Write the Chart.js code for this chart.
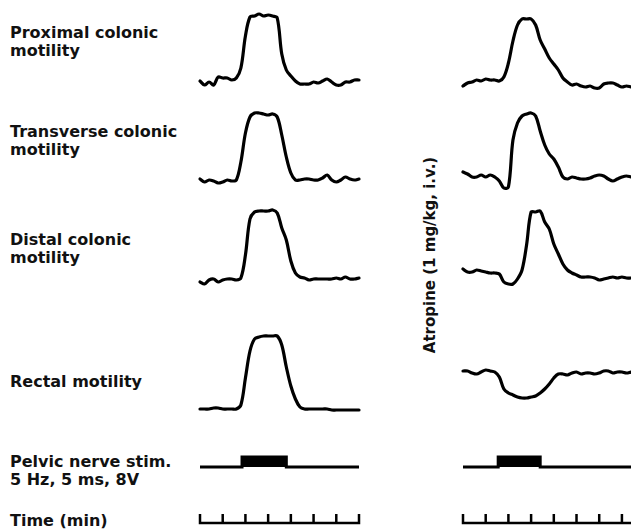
<!DOCTYPE html>
<html>
<head>
<meta charset="utf-8">
<script src="https://cdn.jsdelivr.net/npm/chart.js@4/dist/chart.umd.min.js"></script>
<style>
  body { margin: 0; background: #fff; }
  #wrap {
    position: relative; width: 631px; height: 531px; overflow: hidden;
    font-family: "DejaVu Sans", sans-serif; font-weight: bold;
    font-size: 16px; line-height: 18px; color: #111;
  }
  .label { position: absolute; left: 10px; white-space: nowrap; }
  #atropine {
    position: absolute; left: 430px; top: 255px; white-space: nowrap; font-size: 15px;
    transform: translate(-50%, -50%) rotate(-90deg);
  }
  canvas { position: absolute; top: 0; }
</style>
</head>
<body>
<div id="wrap">
  <div class="label" style="top:24px">Proximal colonic<br>motility</div>
  <div class="label" style="top:123px">Transverse colonic<br>motility</div>
  <div class="label" style="top:231px">Distal colonic<br>motility</div>
  <div class="label" style="top:373px">Rectal motility</div>
  <div class="label" style="top:453px">Pelvic nerve stim.<br>5 Hz, 5 ms, 8V</div>
  <div class="label" style="top:512px">Time (min)</div>
  <div id="atropine">Atropine (1 mg/kg, i.v.)</div>
  <canvas id="leftChart" width="180" height="531" style="left:190px"></canvas>
  <canvas id="rightChart" width="178" height="531" style="left:453px"></canvas>
</div>
<script>
// time axis (min)
var minutesLeft = [0, 0.2, 0.4, 0.6, 0.8, 1, 1.2, 1.4, 1.6, 1.8, 2, 2.2, 2.4, 2.6, 2.8, 3, 3.2, 3.4, 3.6, 3.8,
  4, 4.2, 4.4, 4.6, 4.8, 5, 5.2, 5.4, 5.6, 5.8, 6, 6.2, 6.4, 6.6, 6.8, 7]
var minutesRight = [0, 0.2, 0.4, 0.6, 0.8, 1, 1.2, 1.4, 1.6, 1.8, 2, 2.2, 2.4, 2.6, 2.8, 3, 3.2, 3.4, 3.6, 3.8,
  4, 4.2, 4.4, 4.6, 4.8, 5, 5.2, 5.4, 5.6, 5.8, 6, 6.2, 6.4, 6.6, 6.8, 7, 7.2, 7.4]
var timeTicks = [0, 1, 2, 3, 4, 5, 6, 7]

// motility deflection (arbitrary units, up = contraction) - control
var proximalLeft = [0, -4, -1, -4, 4, 3, 3, 1, 3, 13, 45, 64, 65, 67, 65, 66, 65, 63, 27, 11, 5, 0, -3, -3, -3, -1, -2, 0, 2, -1, -4, -4, -1, -1, 1, 1]
var transverseLeft = [1, -2, 0, -1, -3, -2, 0, -1, 0, 18, 47, 63, 67, 67, 66, 65, 66, 63, 45, 23, 7, 0, 0, 1, 1, 0, 0, 2, 5, 0, -2, 0, 3, 1, 0, 1]
var distalLeft = [-3, -5, -1, 0, -3, -1, 0, 0, -1, 1, 24, 60, 67, 68, 68, 68, 69, 66, 51, 39, 18, 6, 2, 1, -1, 0, 0, 0, 0, 0, 1, 0, 2, 0, 0, 1]
var rectalLeft = [0, 0, 0, 1, 1, 0, 0, 0, 0, 4, 31, 58, 70, 72, 73, 73, 73, 73, 64, 42, 23, 10, 2, 0, 0, 0, 0, 0, 0, -1, -1, -1, -1, -1, -1, -1]

// after atropine
var proximalRight = [-5, -2, -1, 1, 0, 2, 1, 1, 0, 4, 18, 40, 56, 62, 62, 62, 56, 41, 32, 23, 17, 11, 3, -1, -4, -3, -5, -6, -5, -7, -7, -3, -2, -2, -4, -6, -5, -6]
var transverseRight = [8, 6, 3, 3, 5, 3, 5, 3, -1, -8, -7, 40, 57, 64, 66, 67, 64, 49, 35, 26, 21, 13, 3, 1, 3, 2, 1, 1, 2, 4, 5, 4, 1, -1, 1, 3, 4, 3]
var distalRight = [10, 7, 7, 9, 8, 7, 6, 6, 5, -3, -5, -5, 0, 9, 34, 67, 67, 68, 57, 50, 35, 25, 15, 9, 6, 4, 2, 2, 2, 1, -1, 0, 1, 2, 1, 2, 1, 1]
var rectalRight = [0, 0, -2, -3, -1, 1, 0, -1, -6, -18, -22, -24, -26, -27, -27, -26, -25, -22, -18, -13, -7, -3, -3, -4, -2, -1, -3, -2, -2, -3, -2, 0, 0, -2, -1, -1, -2, -1]

// stimulation period, start and end (min)
var stimLeft = [1.85, 3.8]
var stimRight = [1.55, 3.4]

// layout: row baselines on the page (px from top)
var rowsLeft = [81, 180, 279, 409]
var rowsRight = [81, 180, 279, 371]
var stimRow = 467
var stimHeight = 10
var rulerRow = 523
var tickHeight = 9

function traceDataset(minutes, values, base) {
  return {
    data: values.map(function (v, i) { return { x: minutes[i], y: base - v } }),
    borderColor: "#000",
    borderWidth: 3.2,
    tension: 0.35,
    borderCapStyle: "round",
    borderJoinStyle: "round",
    pointRadius: 0,
    fill: false,
    clip: false,
  }
}

function makePanel(canvasId, minutes, traces, rows, stim, xMax, padLeft, padRight) {
  var datasets = traces.map(function (values, i) {
    return traceDataset(minutes, values, rows[i])
  })

  datasets.push({
    data: [
      { x: 0, y: stimRow },
      { x: stim[0], y: stimRow },
      { x: stim[0], y: stimRow - stimHeight },
      { x: stim[1], y: stimRow - stimHeight },
      { x: stim[1], y: stimRow },
      { x: xMax, y: stimRow },
    ],
    borderColor: "#000",
    backgroundColor: "#000",
    borderWidth: 3,
    tension: 0,
    pointRadius: 0,
    fill: { value: stimRow },
    clip: false,
  })

  var comb = []
  timeTicks.forEach(function (t) {
    comb.push({ x: t, y: rulerRow })
    comb.push({ x: t, y: rulerRow - tickHeight })
    comb.push({ x: t, y: rulerRow })
  })
  comb.push({ x: xMax, y: rulerRow })
  datasets.push({
    data: comb,
    borderColor: "#000",
    borderWidth: 2.5,
    tension: 0,
    pointRadius: 0,
    fill: false,
    clip: false,
  })

  var ctx = document.getElementById(canvasId).getContext("2d")
  return new Chart(ctx, {
    type: "line",
    data: { datasets: datasets },
    options: {
      responsive: false,
      animation: false,
      devicePixelRatio: 1,
      layout: { padding: { left: padLeft, right: padRight, top: 0, bottom: 0 } },
      scales: {
        x: { type: "linear", min: 0, max: xMax, display: false },
        y: { min: 0, max: 531, reverse: true, display: false },
      },
      plugins: { legend: { display: false }, tooltip: { enabled: false } },
    },
  })
}

makePanel("leftChart", minutesLeft, [proximalLeft, transverseLeft, distalLeft, rectalLeft], rowsLeft, stimLeft, 7, 10, 11)
makePanel("rightChart", minutesRight, [proximalRight, transverseRight, distalRight, rectalRight], rowsRight, stimRight, 7.4, 10, 0)
</script>
</body>
</html>
